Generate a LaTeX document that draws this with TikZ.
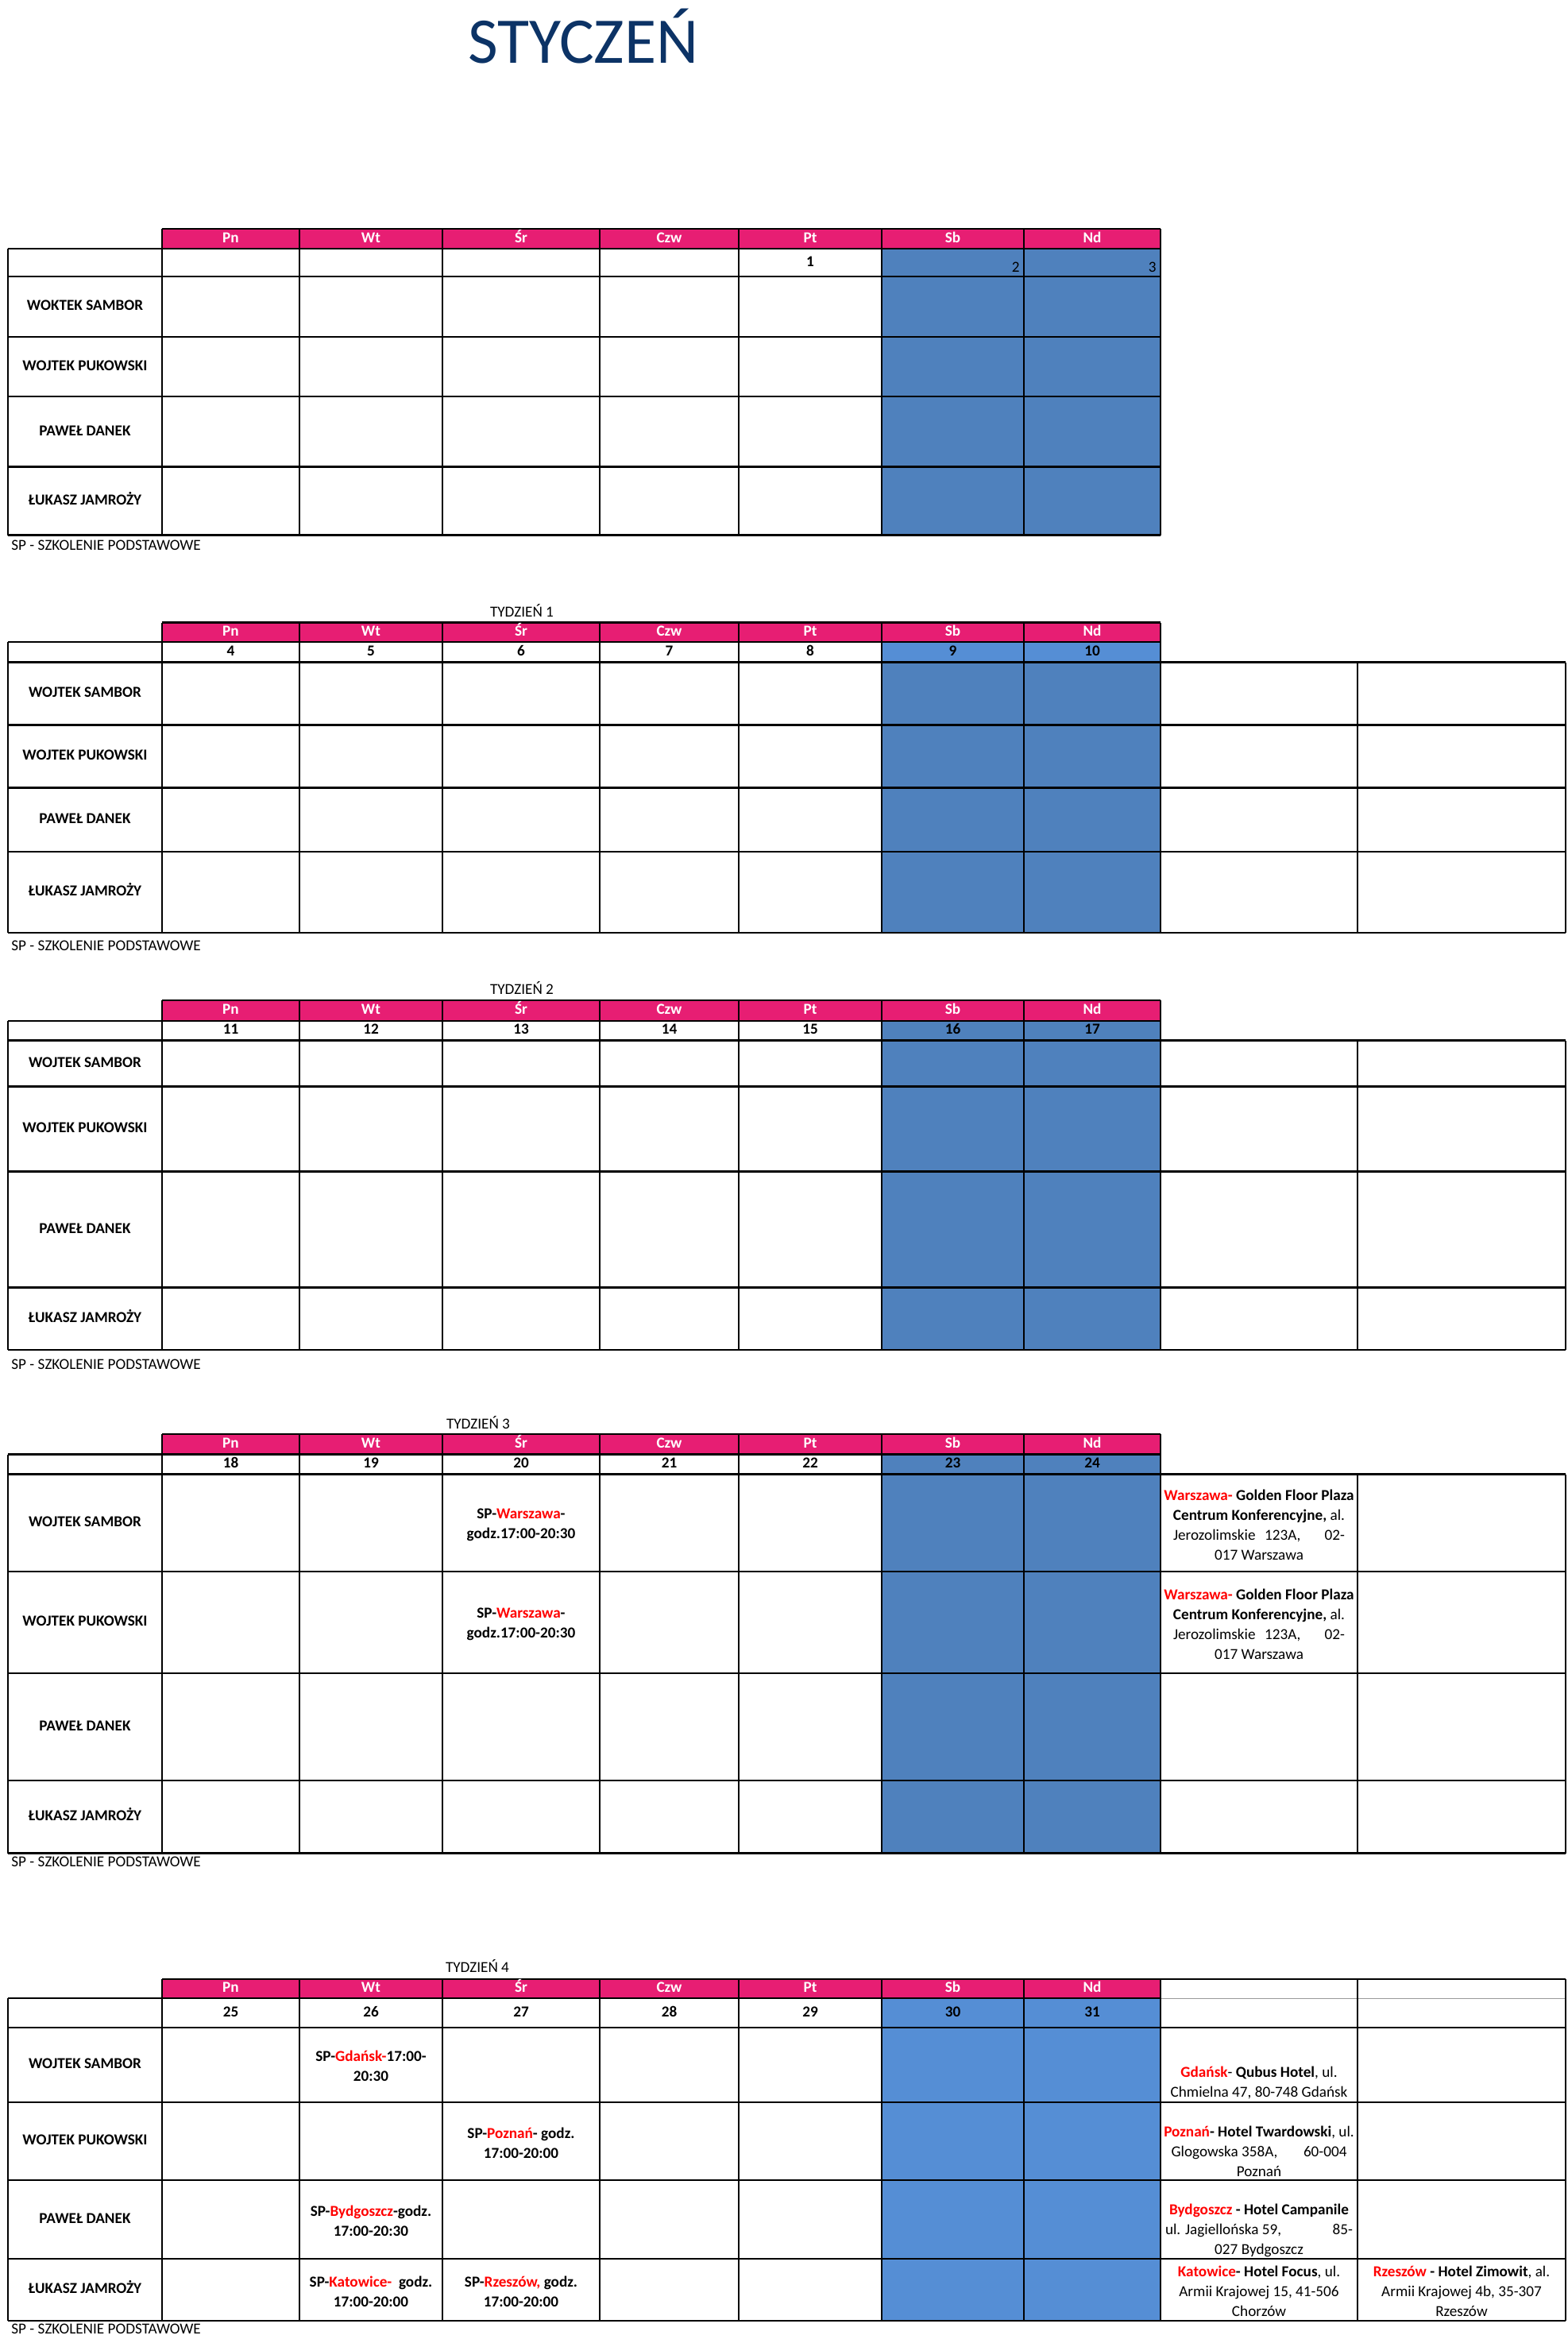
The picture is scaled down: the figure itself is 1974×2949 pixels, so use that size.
\documentclass[tikz,border=0pt]{standalone}
\usepackage{fontspec}
\setmainfont{Carlito}
\definecolor{pinkh}{RGB}{231,30,115}
\definecolor{blueA}{RGB}{79,129,189}
\definecolor{blueB}{RGB}{85,142,213}
\definecolor{navy}{RGB}{12,51,102}
\definecolor{redt}{RGB}{255,0,0}
\newcommand\rt[1]{\textcolor{redt}{#1}}
\newcommand\bfs{\fontsize{9.6pt}{12.5pt}\selectfont}
% #1 ht, #2 hb, #3 db, #4..#7 row bottoms, #8 right end of body lines
\newcommand\weekgrid[8]{%
  \draw[hl] (204,#1) -- (1461,#1);
  \draw[hl] (10,#2) -- (1461,#2);
  \draw[hl] (10,#3) -- (#8,#3);
  \foreach \yy in {#4,#5,#6,#7} \draw[hl] (10,\yy) -- (#8,\yy);
  \foreach \xx in {204,377,557,755,930,1110,1289,1461} \draw[vl] (\xx,#1) -- (\xx,#7);
  \draw[vl] (10,#2) -- (10,#7);
}
\newcommand\hdrrow[2]{%
  \foreach \xx/\tt [count=\i] in {290.5/Pn,467/Wt,656/Śr,842.5/Czw,1020/Pt,1199.5/Sb,1375/Nd}
    \node[hdr] (hd#1-\i) at (\xx,#2) {\tt};
}
\newcommand\names[6]{%
  \node[nm] (nm#1-1) at (107,#2) {#6};
  \node[nm] (nm#1-2) at (107,#3) {WOJTEK PUKOWSKI};
  \node[nm] (nm#1-3) at (107,#4) {PAWEŁ DANEK};
  \node[nm] (nm#1-4) at (107,#5) {ŁUKASZ JAMROŻY};
}
\newcommand\daynums[3]{%
  \foreach \xx [count=\i from 0] in {290.5,467,656,842.5,1020,1199.5,1375}{
    \pgfmathtruncatemacro\dd{#3+\i}
    \node[num] (dn#1-\i) at (\xx,#2) {\dd};}
}
\begin{document}
\begin{tikzpicture}[x=0.5pt,y=-0.5pt,
  every node/.style={inner sep=0pt, font=\bfs},
  hl/.style={line width=1.3pt, black},
  vl/.style={line width=0.9pt, black},
  hdr/.style={anchor=mid, text=white, font=\bfs\bfseries},
  nm/.style={anchor=mid, font=\bfs\bfseries},
  num/.style={anchor=mid, font=\bfs\bfseries},
  lbl/.style={anchor=mid},
  foot/.style={anchor=mid west},
  bcell/.style={align=center, font=\bfs\bfseries},
  ncell/.style={align=center, font=\bfs}
]
\useasboundingbox[fill=white] (0,0) rectangle (1974,2949);

% title
\node[anchor=base, text=navy, font=\fontsize{41pt}{45pt}\selectfont] (title) at (734.5,80) {STYCZEŃ};

% ===== week 0 =====
\fill[pinkh] (204,288) rectangle (1461,313);
\fill[blueA] (1110,313) rectangle (1461,673.5);
\weekgrid{288}{313}{348}{424}{499}{587.5}{673.5}{1461}
\hdrrow{0}{300.5}
\node[num] (d0-1) at (1020,331) {1};
\node[anchor=mid east] (d0-2) at (1284,338) {2};
\node[anchor=mid east] (d0-3) at (1456,338) {3};
\names{0}{386}{461.5}{543.25}{630.5}{WOKTEK SAMBOR}
\node[foot] (f0) at (14,688) {SP - SZKOLENIE PODSTAWOWE};

% ===== week 1 =====
\node[lbl] (t1) at (657,772) {TYDZIEŃ 1};
\fill[pinkh] (204,783.5) rectangle (1461,808);
\fill[blueB] (1110,808) rectangle (1461,833.5);
\fill[blueA] (1110,833.5) rectangle (1461,1174);
\weekgrid{783.5}{808}{833.5}{912.5}{991.5}{1072}{1174}{1971}
\foreach \xx in {1709,1971} \draw[vl] (\xx,833.5) -- (\xx,1174);
\hdrrow{1}{796}
\daynums{1}{821}{4}
\names{1}{873}{952}{1031.75}{1123}{WOJTEK SAMBOR}
\node[foot] (f1) at (14,1192) {SP - SZKOLENIE PODSTAWOWE};

% ===== week 2 =====
\node[lbl] (t2) at (657,1247) {TYDZIEŃ 2};
\fill[pinkh] (204,1259) rectangle (1461,1285);
\fill[blueA] (1110,1285) rectangle (1461,1699);
\weekgrid{1259}{1285}{1309.5}{1367.5}{1474.5}{1620.5}{1699}{1971}
\foreach \xx in {1709,1971} \draw[vl] (\xx,1309.5) -- (\xx,1699);
\hdrrow{2}{1272}
\daynums{2}{1297}{11}
\names{2}{1338.5}{1421}{1547.5}{1659.75}{WOJTEK SAMBOR}
\node[foot] (f2) at (14,1719) {SP - SZKOLENIE PODSTAWOWE};

% ===== week 3 =====
\node[lbl] (t3) at (602,1794) {TYDZIEŃ 3};
\fill[pinkh] (204,1805) rectangle (1461,1830.5);
\fill[blueA] (1110,1830.5) rectangle (1461,2332.5);
\weekgrid{1805}{1830.5}{1855.5}{1978}{2106}{2241}{2332.5}{1971}
\foreach \xx in {1709,1971} \draw[vl] (\xx,1855.5) -- (\xx,2332.5);
\hdrrow{3}{1818}
\daynums{3}{1843}{18}
\names{3}{1916.75}{2042}{2173.5}{2286.75}{WOJTEK SAMBOR}
\node[bcell] (c3a) at (656,1919) {SP-\rt{Warszawa}-\\godz.17:00-20:30};
\node[bcell] (c3b) at (656,2044) {SP-\rt{Warszawa}-\\godz.17:00-20:30};
\node[ncell] (e3a) at (1585,1919) {\textbf{\rt{Warszawa-} Golden Floor Plaza}\\\textbf{Centrum Konferencyjne,} al.\\\hbox to 108pt{Jerozolimskie\hskip0.6em 123A,\hfill 02-}\\017 Warszawa};
\node[ncell] (e3b) at (1585,2044) {\textbf{\rt{Warszawa-} Golden Floor Plaza}\\\textbf{Centrum Konferencyjne,} al.\\\hbox to 108pt{Jerozolimskie\hskip0.6em 123A,\hfill 02-}\\017 Warszawa};
\node[foot] (f3) at (14,2345) {SP - SZKOLENIE PODSTAWOWE};

% ===== week 4 =====
\node[lbl] (t4) at (601,2478) {TYDZIEŃ 4};
\fill[pinkh] (204,2491) rectangle (1461,2515);
\fill[blueB] (1110,2515) rectangle (1461,2921);
\draw[line width=0.5pt, black!40] (1461,2515) -- (1971,2515);
\weekgrid{2491}{2515}{2552}{2646}{2744}{2843}{2921}{1971}
\draw[hl] (1461,2491) -- (1971,2491);
\foreach \xx in {1709,1971} \draw[vl] (\xx,2491) -- (\xx,2921);
\hdrrow{4}{2503}
\daynums{4}{2533.5}{25}
\names{4}{2599}{2695}{2793.5}{2882}{WOJTEK SAMBOR}
\node[bcell] (c4a) at (467,2600) {SP-\rt{Gdańsk-}17:00-\\20:30};
\node[bcell] (c4b) at (656,2697) {SP-\rt{Poznań}- godz.\\17:00-20:00};
\node[bcell] (c4c) at (467,2795.5) {SP-\rt{Bydgoszcz}-godz.\\17:00-20:30};
\node[bcell] (c4d) at (467,2884) {SP-\rt{Katowice-}\ \ godz.\\17:00-20:00};
\node[bcell] (c4e) at (656,2884) {SP-\rt{Rzeszów,} godz.\\17:00-20:00};
\node[ncell] (e4a) at (1585,2621.5) {\textbf{\rt{Gdańsk}}- \textbf{Qubus Hotel}, ul.\\Chmielna 47, 80-748 Gdańsk};
\node[ncell] (e4b) at (1585,2708) {\textbf{\rt{Poznań}- Hotel Twardowski}, ul.\\\hbox to 110.5pt{Glogowska 358A,\hfill 60-004}\\Poznań};
\node[ncell] (e4c) at (1585,2807) {\textbf{\rt{Bydgoszcz} - Hotel Campanile}\\\hbox to 118pt{ul. Jagiellońska 59,\hfill 85-}\\027 Bydgoszcz};
\node[ncell] (e4d) at (1585,2884) {\textbf{\rt{Katowice}- Hotel Focus}, ul.\\Armii Krajowej 15, 41-506\\Chorzów};
\node[ncell] (e4e) at (1840,2884) {\textbf{\rt{Rzeszów} - Hotel Zimowit}, al.\\Armii Krajowej 4b, 35-307\\Rzeszów};
\node[foot] (f4) at (14,2933) {SP - SZKOLENIE PODSTAWOWE};
\end{tikzpicture}
\end{document}
